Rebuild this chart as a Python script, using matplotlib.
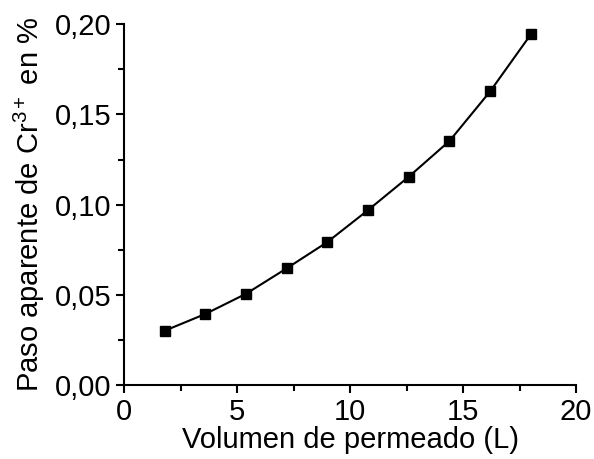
import numpy as np
import matplotlib
matplotlib.use("Agg")
import matplotlib.pyplot as plt
from matplotlib.ticker import FuncFormatter, MultipleLocator

plt.rcParams["font.family"] = ["Liberation Sans", "DejaVu Sans"]
plt.rcParams["mathtext.fontset"] = "custom"
plt.rcParams["mathtext.rm"] = "Liberation Sans"
plt.rcParams["mathtext.it"] = "Liberation Sans:italic"

volumen = [1.8, 3.6, 5.4, 7.2, 9.0, 10.8, 12.6, 14.4, 16.2, 18.0]
paso = [0.0301, 0.0394, 0.0506, 0.0647, 0.0793, 0.0970, 0.1155, 0.1353, 0.1628, 0.1944]

fig = plt.figure(figsize=(5.94, 4.59), dpi=100)
ax = fig.add_axes([0.2088, 0.1612, 0.7609, 0.7858])

ax.plot(volumen, paso, color="black", linewidth=1.5, marker="s",
        markersize=7, markerfacecolor="black", markeredgecolor="black")

ax.set_xlim(0, 20)
ax.set_ylim(0, 0.20)
ax.xaxis.set_major_locator(MultipleLocator(5))
ax.xaxis.set_minor_locator(MultipleLocator(2.5))
ax.yaxis.set_major_locator(MultipleLocator(0.05))
ax.yaxis.set_minor_locator(MultipleLocator(0.025))
ax.yaxis.set_major_formatter(FuncFormatter(lambda v, p: f"{v:.2f}".replace(".", ",")))

for s in ["top", "right"]:
    ax.spines[s].set_visible(False)
for s in ["left", "bottom"]:
    ax.spines[s].set_linewidth(1.5)

ax.tick_params(which="major", direction="out", length=6, width=1.5, labelsize=21, pad=3)
ax.tick_params(which="minor", direction="out", length=4, width=1.5)

ax.set_xlabel("Volumen de permeado (L)", fontsize=21, labelpad=0)
ax.set_ylabel("Paso aparente de Cr$^{3+}$ en %", fontsize=21, labelpad=6)

fig.savefig("out.png", dpi=100)
